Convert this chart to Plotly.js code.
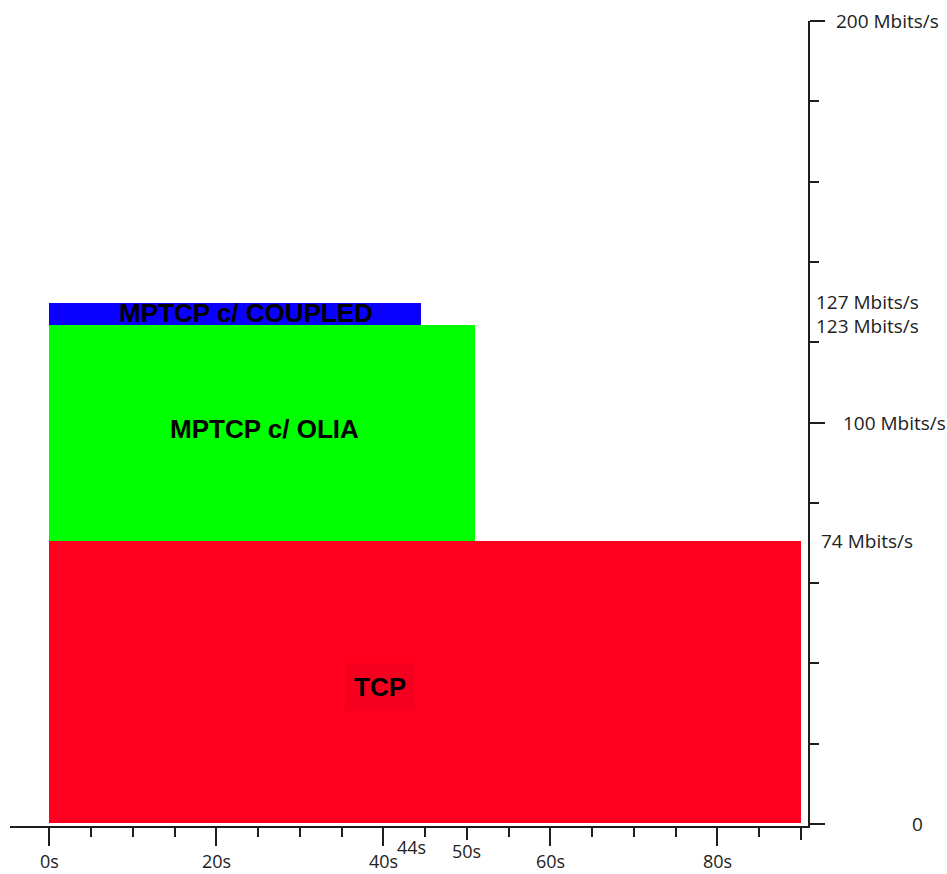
<!DOCTYPE html>
<html>
<head>
<meta charset="utf-8">
<script src="https://cdn.plot.ly/plotly-3.0.1.min.js"></script>
<style>
  html, body { margin: 0; padding: 0; background: #ffffff; }
  #chart { width: 947px; height: 874px; }
</style>
</head>
<body>
<div id="chart"></div>
<script>
// ---- data ----
const seriesNames = ['TCP', 'MPTCP c/ OLIA', 'MPTCP c/ COUPLED'];
const timeStart = [0, 0, 0];          // s
const timeEnd = [90, 51, 44.5];       // s
const rateBase = [0.3, 70.5, 124.4];  // Mbits/s
const rateTop = [70.5, 124.4, 129.7]; // Mbits/s
const rateLabels = ['74 Mbits/s', '123 Mbits/s', '127 Mbits/s'];

const yTickVals = [200, 100, 0];
const yTickText = ['200 Mbits/s', '100 Mbits/s', '0'];
const yMinorVals = [20, 40, 60, 80, 120, 140, 160, 180];

const xTickVals = [0, 20, 40, 60, 80];
const xTickText = ['0s', '20s', '40s', '60s', '80s'];
const xMinorVals = [5, 10, 15, 25, 30, 35, 45, 55, 65, 70, 75, 85];
const xMidVals = [50, 90];
const xExtraLabels = [{x: 44.5, text: '44s'}, {x: 50, text: '50s'}];

// ---- styles ----
const colors = ['#FF001E', '#00FF00', '#0A00FF'];
const axisColor = '#1e1e1e';
const tickFont = {family: 'Open Sans, sans-serif', size: 19, color: '#222'};
const xTickFont = {family: 'Open Sans, sans-serif', size: 18, color: '#222'};
const barFont = {family: 'Liberation Sans, Arial, sans-serif', size: 26, color: '#000'};

const traces = seriesNames.map((name, i) => ({
  type: 'bar',
  name: name,
  x: [(timeStart[i] + timeEnd[i]) / 2],
  width: [timeEnd[i] - timeStart[i]],
  base: [rateBase[i]],
  y: [rateTop[i] - rateBase[i]],
  marker: {color: colors[i], line: {width: 0}},
  hoverinfo: 'skip',
  showlegend: false,
  xaxis: 'x',
  yaxis: 'y'
}));
// helper invisible trace for the extra tick axis
traces.push({type: 'scatter', x: [0], y: [0], xaxis: 'x2', yaxis: 'y', mode: 'markers',
  marker: {opacity: 0}, hoverinfo: 'skip', showlegend: false});

const annotations = [];
// right axis labels
const yShifts = [26, 33, 102];
yTickVals.forEach((v, i) => annotations.push({
  xref: 'paper', yref: 'y', x: 1, y: v, xanchor: 'left', yanchor: 'middle',
  xshift: yShifts[i], text: yTickText[i], showarrow: false, font: tickFont
}));
const rateShifts = [11, 6, 6];
const rateYShift = [0, -1, 1];
rateTop.forEach((v, i) => annotations.push({
  xref: 'paper', yref: 'y', x: 1, y: v, xanchor: 'left', yanchor: 'middle',
  xshift: rateShifts[i], yshift: rateYShift[i], text: rateLabels[i], showarrow: false, font: tickFont
}));
// x labels
xTickVals.forEach((v, i) => annotations.push({
  xref: 'x', yref: 'paper', x: v, y: 0, xanchor: 'center', yanchor: 'middle',
  yshift: -35, borderpad: 0, text: xTickText[i], showarrow: false, font: xTickFont
}));
annotations.push({xref: 'x', yref: 'paper', x: xExtraLabels[0].x, y: 0, xanchor: 'right',
  yanchor: 'middle', xshift: 7, yshift: -21, text: xExtraLabels[0].text, showarrow: false, font: xTickFont});
annotations.push({xref: 'x', yref: 'paper', x: xExtraLabels[1].x, y: 0, xanchor: 'center',
  yanchor: 'middle', yshift: -25, text: xExtraLabels[1].text, showarrow: false, font: xTickFont});
// bar labels
annotations.push({xref: 'x', yref: 'y', x: 23.6, y: 127.3, text: '<b>' + seriesNames[2] + '</b>',
  showarrow: false, font: barFont, xanchor: 'center', yanchor: 'middle'});
annotations.push({xref: 'x', yref: 'y', x: 25.8, y: 98.3, text: '<b>' + seriesNames[1] + '</b>',
  showarrow: false, font: barFont, xanchor: 'center', yanchor: 'middle'});
annotations.push({xref: 'x', yref: 'y', x: 39.6, y: 34.2, text: '<b>' + seriesNames[0] + '</b>',
  showarrow: false, font: barFont, xanchor: 'center', yanchor: 'middle',
  bgcolor: '#F6001F', borderpad: 8});

const layout = {
  width: 947, height: 874,
  margin: {l: 10, r: 139, t: 21, b: 48, pad: 0},
  paper_bgcolor: '#ffffff', plot_bgcolor: '#ffffff',
  barmode: 'overlay', bargap: 0,
  showlegend: false,
  xaxis: {
    range: [-4.71, 90.86], fixedrange: true,
    showline: true, linecolor: axisColor, linewidth: 2,
    showgrid: false, zeroline: false,
    tickmode: 'array', tickvals: xTickVals, ticks: 'outside', ticklen: 18, tickwidth: 2, tickcolor: axisColor,
    showticklabels: false,
    minor: {tickmode: 'array', tickvals: xMinorVals, ticks: 'outside', ticklen: 9, tickwidth: 2, tickcolor: axisColor, showgrid: false}
  },
  xaxis2: {
    overlaying: 'x', matches: 'x', range: [-4.71, 90.86],
    showline: false, showgrid: false, zeroline: false,
    tickmode: 'array', tickvals: xMidVals, ticks: 'outside', ticklen: 13, tickwidth: 2, tickcolor: axisColor,
    showticklabels: false, side: 'bottom'
  },
  yaxis: {
    range: [-0.5, 200], fixedrange: true, side: 'right',
    showline: true, linecolor: axisColor, linewidth: 2,
    showgrid: false, zeroline: false,
    tickmode: 'array', tickvals: yTickVals, ticks: 'outside', ticklen: 15, tickwidth: 2, tickcolor: axisColor,
    showticklabels: false,
    minor: {tickmode: 'array', tickvals: yMinorVals, ticks: 'outside', ticklen: 9, tickwidth: 2, tickcolor: axisColor, showgrid: false}
  },
  annotations: annotations
};

Plotly.newPlot('chart', traces, layout, {displayModeBar: false, staticPlot: true});
</script>
</body>
</html>
